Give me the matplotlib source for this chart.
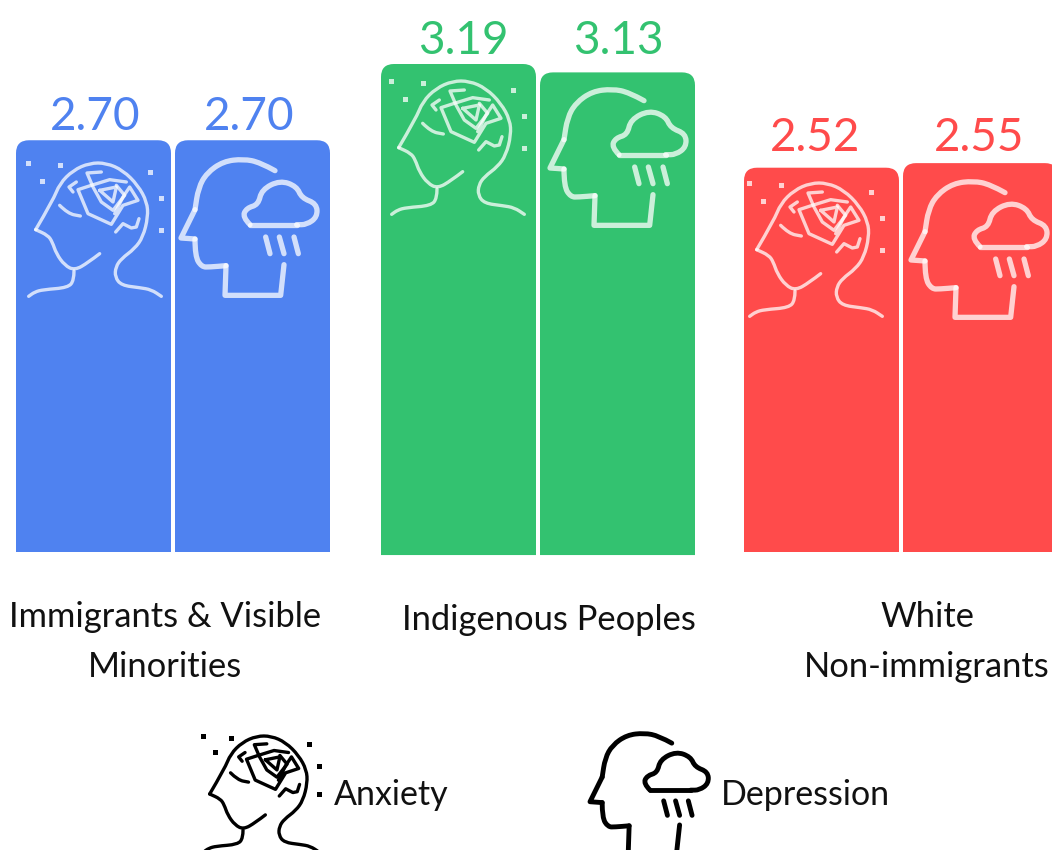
import matplotlib
matplotlib.use('Agg')
import matplotlib.pyplot as plt
from matplotlib.path import Path
from matplotlib.patches import PathPatch

plt.rcParams['font.family'] = ['Lato', 'DejaVu Sans']

groups = ['Immigrants & Visible\nMinorities', 'Indigenous Peoples', 'White\nNon-immigrants']
group_colors = ['#4f82f0', '#33c270', '#ff4b4b']
value_labels = [['2.70', '2.70'], ['3.19', '3.13'], ['2.52', '2.55']]
# heights as drawn, they run a little off the printed numbers in the green group
bar_heights = [[2.70, 2.70], [3.22, 3.165], [2.52, 2.55]]
bar_bases = [0, -0.02, 0]
legend_names = ['Anxiety', 'Depression']

PX_PER_UNIT = 152.5
BASE_PX = 552
W, H = 1052, 850

group_left = [16, 381, 744]
bar_w = 155
bar_gap = 4
radius = 13
value_x = [[95.5, 249.5], [463, 618], [815, 979]]
value_y = [117, 41, 138]
anx_pos = [(28, 163), (391, 81), (749, 183)]
dep_pos = [(181, 159), (550, 89), (911, 181)]
label_y = [642, 620, 642]
label_x = [165, 549, 927]

ANX_ANCHOR = (55, 98)
DEP_ANCHOR = (513, 88)


def to_y(py):
    return (BASE_PX - py) / PX_PER_UNIT


def rounded_bar(ax, x, base, height, color):
    ry = radius / PX_PER_UNIT
    top = base + height
    verts = [(x, base), (x, top - ry), (x, top), (x + radius, top),
             (x + bar_w - radius, top), (x + bar_w, top), (x + bar_w, top - ry),
             (x + bar_w, base), (x, base)]
    codes = [Path.MOVETO, Path.LINETO, Path.CURVE3, Path.CURVE3, Path.LINETO,
             Path.CURVE3, Path.CURVE3, Path.LINETO, Path.CLOSEPOLY]
    ax.add_patch(PathPatch(Path(verts, codes), fc=color, ec='none'))


# icon outlines, traced in 3x crop coordinates
ANX_SMOOTH = [
    [(270, 370), (235, 397), (195, 420), (165, 405), (140, 370), (128, 335), (115, 315), (78, 298)],
    [(78, 298), (130, 210), (150, 160), (190, 120), (240, 98), (290, 98), (340, 120), (385, 165),
     (412, 215), (415, 260), (400, 320), (375, 355), (335, 385), (318, 410), (316, 440), (335, 465),
     (390, 472), (425, 478), (455, 498)],
    [(193, 422), (193, 450), (175, 472), (100, 478), (75, 485), (57, 498)],
    [(150, 225), (175, 250), (212, 257)],
]
ANX_LINES = [
    [(275, 125), (232, 128), (250, 170), (275, 215), (310, 240), (345, 195), (320, 165)],
    [(350, 155), (300, 148), (245, 165), (205, 178), (235, 250), (305, 282), (340, 225), (385, 210),
     (360, 170), (340, 200), (315, 250)],
    [(270, 180), (320, 170), (310, 215), (270, 180)],
    [(200, 155), (178, 170), (190, 185)],
    [(318, 305), (340, 280), (365, 293), (380, 290), (388, 265)],
]
ANX_DOTS = [(55, 98), (152, 105), (97, 153), (420, 126), (455, 203), (455, 298)]

DEP_SMOOTH = [
    [(795, 123), (750, 98), (700, 88), (640, 95), (590, 130), (565, 175), (555, 240)],
    [(555, 328), (555, 380), (575, 412), (600, 412), (648, 408)],
    [(720, 285), (697, 262), (710, 235), (745, 225), (755, 180), (810, 152), (860, 170), (875, 205),
     (920, 222), (922, 262), (890, 285), (860, 285)],
]
DEP_LINES = [
    [(555, 240), (513, 325), (555, 328)],
    [(648, 408), (645, 497), (812, 497), (822, 405)],
    [(720, 285), (860, 285)],
    [(767, 322), (780, 372)],
    [(808, 322), (822, 372)],
    [(852, 322), (865, 372)],
]


def smooth(ax, pts, **kw):
    verts = [pts[0]]
    codes = [Path.MOVETO]
    for p, q in zip(pts[1:-1], pts[2:]):
        verts += [p, ((p[0] + q[0]) / 2, (p[1] + q[1]) / 2)]
        codes += [Path.CURVE3, Path.CURVE3]
    verts.append(pts[-1])
    codes.append(Path.LINETO)
    ax.add_patch(PathPatch(Path(verts, codes), fc='none', capstyle='round', joinstyle='round', **kw))


def draw_icon(ax, smooth_sets, line_sets, dots, anchor, pos, s, color, alpha, lw):
    # crop coords -> picture pixels -> data
    def tr(p):
        return (pos[0] + (p[0] - anchor[0]) / 3 * s, to_y(pos[1] + (p[1] - anchor[1]) / 3 * s))
    for pts in smooth_sets:
        smooth(ax, [tr(p) for p in pts], ec=color, lw=lw, alpha=alpha)
    for pts in line_sets:
        xy = [tr(p) for p in pts]
        ax.plot([p[0] for p in xy], [p[1] for p in xy], color=color, lw=lw, alpha=alpha,
                solid_capstyle='round', solid_joinstyle='round')
    for p in dots:
        xy = tr(p)
        ax.plot(xy[0], xy[1], 's', color=color, ms=3.6, mew=0, alpha=alpha)


fig = plt.figure(figsize=(W / 100, H / 100), dpi=100)
ax = fig.add_axes([0, 0, 1, 1])
ax.set_xlim(0, W)
ax.set_ylim(to_y(H), to_y(0))
ax.axis('off')

for i, name in enumerate(groups):
    color = group_colors[i]
    for j in range(2):
        x = group_left[i] + j * (bar_w + bar_gap)
        rounded_bar(ax, x, bar_bases[i], bar_heights[i][j], color)
        ax.text(value_x[i][j], to_y(value_y[i]), value_labels[i][j], color=color,
                fontsize=33, ha='center', va='center')
    ax.text(label_x[i], to_y(label_y[i]), name, fontsize=24.8, color='#111111', ha='center',
            va='center', linespacing=1.67)
    draw_icon(ax, ANX_SMOOTH, ANX_LINES, ANX_DOTS, ANX_ANCHOR, anx_pos[i], 1, 'white', 0.75, 2.4)
    draw_icon(ax, DEP_SMOOTH, DEP_LINES, [], DEP_ANCHOR, dep_pos[i], 1, 'white', 0.75, 3.8)

# legend
draw_icon(ax, ANX_SMOOTH, ANX_LINES, ANX_DOTS, ANX_ANCHOR, (203, 736), 0.87, 'black', 1, 2.4)
draw_icon(ax, DEP_SMOOTH, DEP_LINES, [], DEP_ANCHOR, (590, 733), 0.87, 'black', 1, 3.5)
ax.text(334, to_y(795), legend_names[0], fontsize=24.5, color='#111111', va='center')
ax.text(721, to_y(795), legend_names[1], fontsize=24.5, color='#111111', va='center')

fig.savefig('out.png', dpi=100)
